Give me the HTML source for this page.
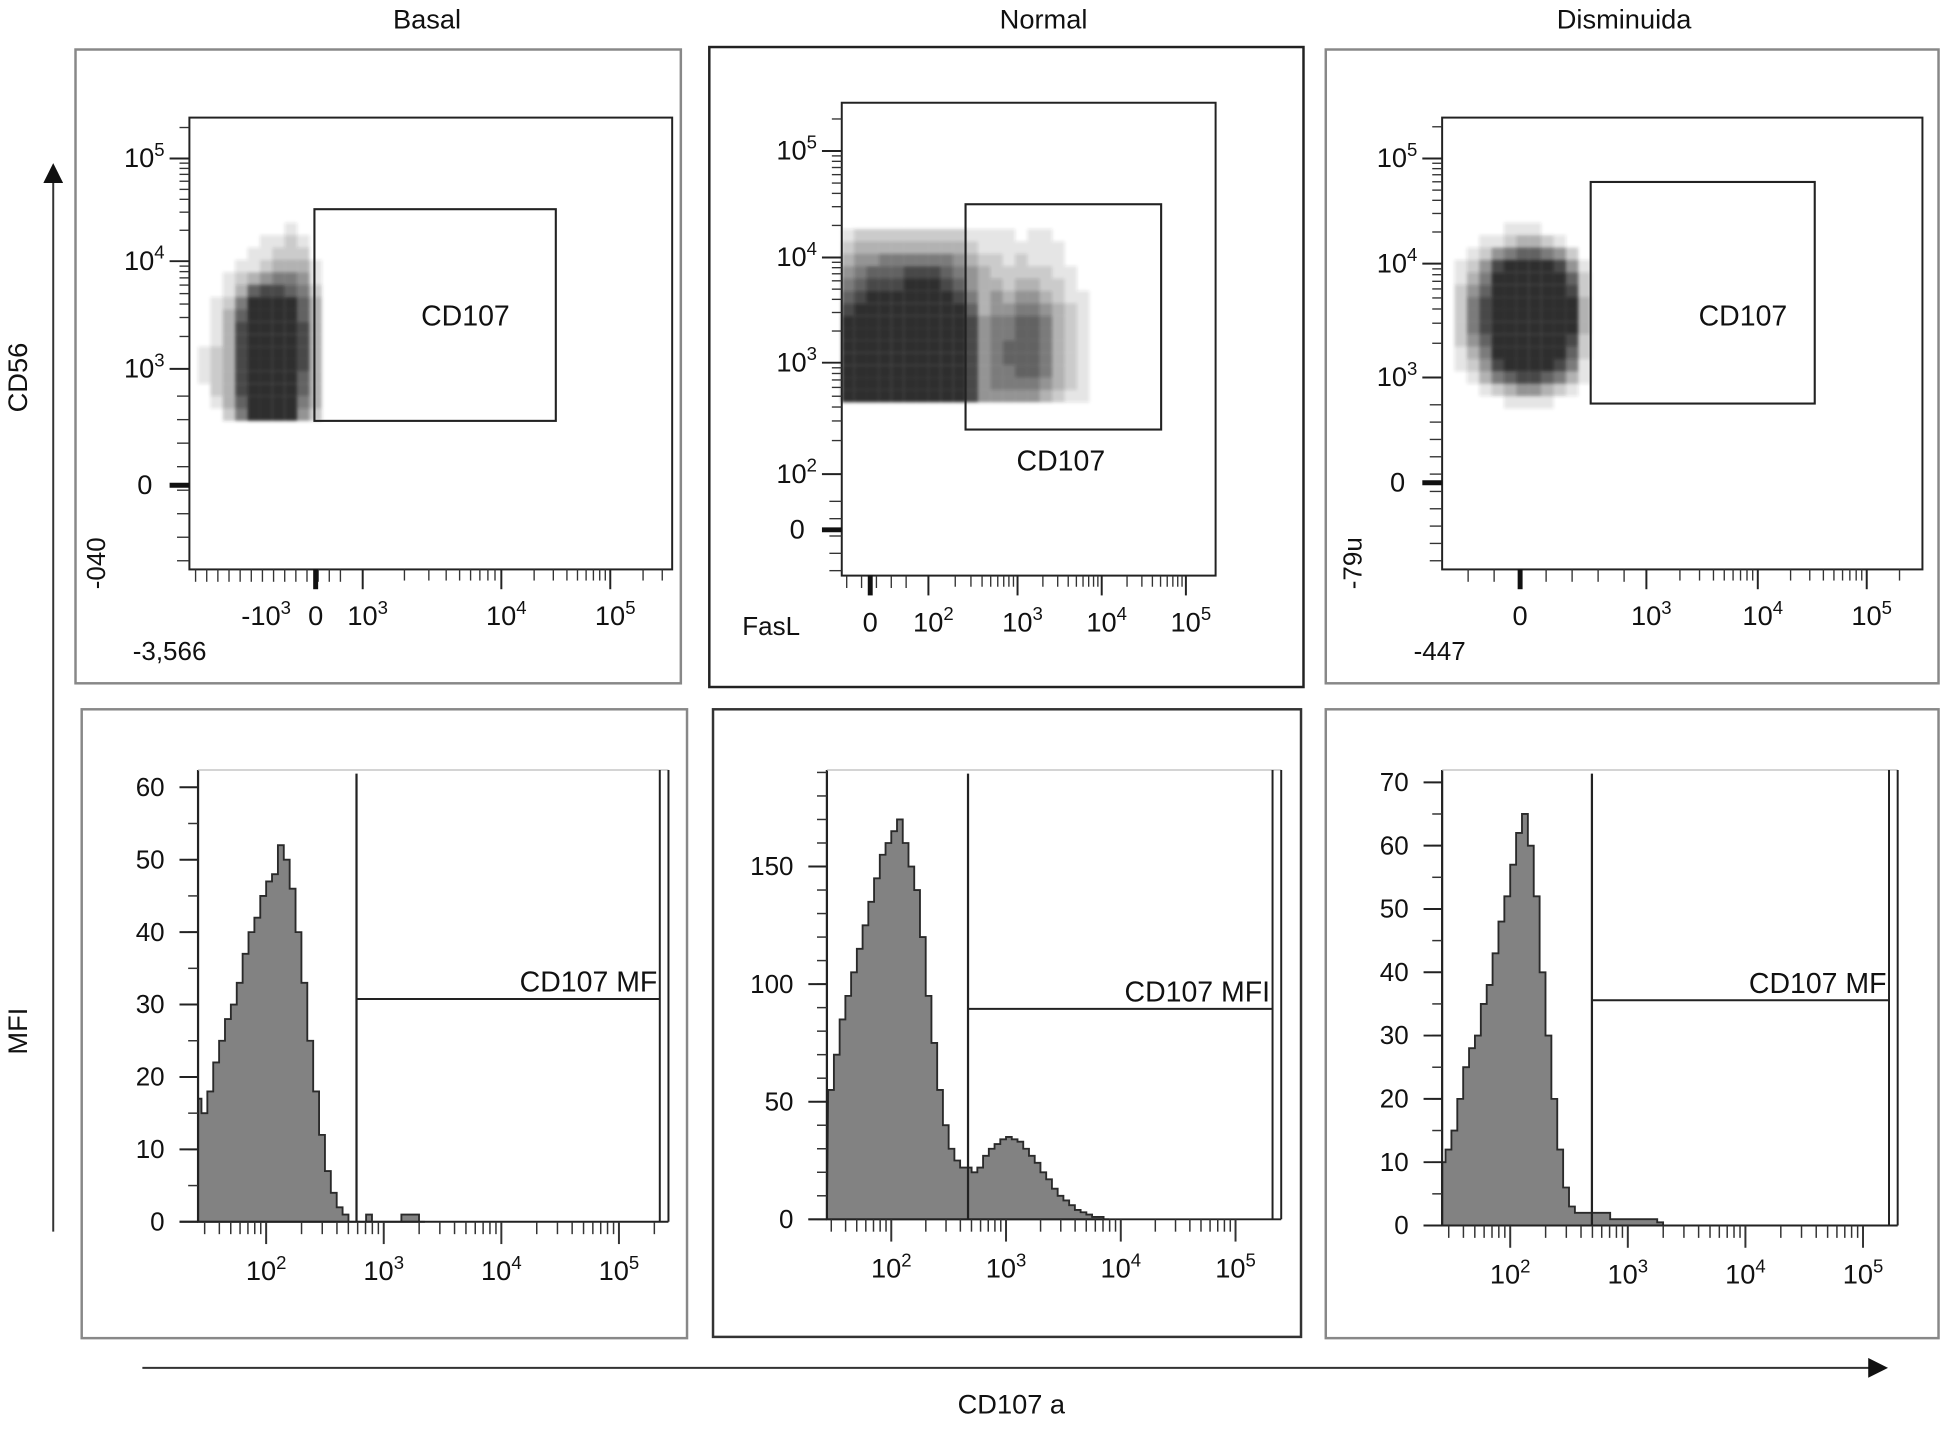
<!DOCTYPE html>
<html><head><meta charset="utf-8"><style>
html,body{margin:0;padding:0;background:#fff;}
svg{display:block;font-family:"Liberation Sans",sans-serif;}
</style></head><body>
<svg id="fig" width="1941" height="1429" viewBox="0 0 1568 1154.4" preserveAspectRatio="none" xmlns="http://www.w3.org/2000/svg">
<defs><filter id="blur" x="-10%" y="-10%" width="120%" height="120%"><feGaussianBlur stdDeviation="1.3"/></filter>
<marker id="ah" markerWidth="10" markerHeight="10" refX="8" refY="5" orient="auto"><path d="M0,0 L10,5 L0,10 z" fill="#111"/></marker></defs>
<g id="root"></g>
</svg>
<script>
// ---------- Histogram data (counts per log10 bin, bin width 0.05) ----------
const binStep = 0.05;
const basalStart = 1.40;
const basalCounts = [17,15,18,22,25,28,30,33,37,40,42,45,47,48,52,50,46,40,33,25,18,12,7,4,2,1,0,0,0,1,0,0,0,0,0,1,1,1,0];
const normalStart = 1.45;
const normalCounts = [55,70,85,95,105,115,125,135,145,155,160,165,170,160,150,140,120,95,75,55,40,30,25,22,22,20,22,27,30,32,34,35,34,33,30,27,24,20,17,13,10,8,6,4,3,2,1,1,0];
const dismStart = 1.40;
const dismCounts = [10,12,15,20,25,28,30,35,38,43,48,52,57,62,65,60,52,40,30,20,12,6,3,2,2,2,2,2,2,1,1,1,1,1,1,1,1,0.5,0];
// ---------- Scatter density grids (0-9) ----------
const basalDensity = ["0000000100","0000011210","0000112220","0001123331","0012345541","0013677652","0125899863","0136999963","0137999973","0137999973","1237999973","1237999973","1237999963","0237999963","0136999953","0025888842"];
const normalDensity = ["12222222221111011000","23333333332111111100","34455555543221211100","45666777654322222110","56777888764332332210","67888999875343443211","78999999986344554321","89999999987455665321","89999999987455665321","89999999987456665321","99999999997456665321","99999999997455665321","99999999997455554321","99999999997444443211"];
const dismDensity = ["000011100000","001123321000","012456654200","124789987410","135899998620","246999999720","257999999830","257999999830","257999999830","246999999720","135899998620","124789987510","013567765310","001234432100","000011110000"];
// ---------- Tick labels ----------
const histYLabelsBasal = [0,10,20,30,40,50,60];
const histYLabelsNormal = [0,50,100,150];
const histYLabelsDism = [0,10,20,30,40,50,60,70];
const histXExps = [2,3,4,5];

const NS="http://www.w3.org/2000/svg";
const root=document.getElementById('root');
function el(tag,attrs,parent){const e=document.createElementNS(NS,tag);for(const k in attrs)e.setAttribute(k,attrs[k]);(parent||root).appendChild(e);return e;}
function line(x1,y1,x2,y2,w,c,p){return el('line',{x1,y1,x2,y2,stroke:c||'#222','stroke-width':w||1.3},p);}
function txt(x,y,s,size,anchor,p){const t=el('text',{x,y,'font-size':size||21,'text-anchor':anchor||'middle',fill:'#111'},p);t.textContent=s;return t;}
function pow(x,y,e,anchor,p,pre){const t=el('text',{x,y,'font-size':22,'text-anchor':anchor||'middle',fill:'#111'},p);
  const a=el('tspan',{},t);a.textContent=(pre||'')+'10';const b=el('tspan',{dy:-9,'font-size':15},t);b.textContent=String(e);return t;}

// ---------- global labels ----------
const titles=[['Basal',345],['Normal',843],['Disminuida',1312]];
titles.forEach(([s,x])=>{const t=txt(x,23,s,22);

});
const yArrow=line(43,995,43,135,1.6,'#333');yArrow.setAttribute('marker-end','url(#ah)');


const xArrow=line(115,1105,1522,1105,1.6,'#333');xArrow.setAttribute('marker-end','url(#ah)');


const cd56=txt(0,0,'CD56',22);cd56.setAttribute('transform','translate(22,305) rotate(-90)');


const mfi=txt(0,0,'MFI',22);mfi.setAttribute('transform','translate(22,833) rotate(-90)');


const xt=txt(817,1142,'CD107 a',22);



// ---------- scatter panels ----------
function scatterPanel(cfg){
  const g=el('g',{});
  
  
  const o=cfg.outer;
  el('rect',{x:o[0],y:o[1],width:o[2]-o[0],height:o[3]-o[1],fill:'none',stroke:cfg.outerColor,'stroke-width':cfg.outerW},g);
  const b=cfg.inner;
  const dg=el('g',{filter:'url(#blur)'},g);
  cfg.density.forEach((row,r)=>{for(let c=0;c<row.length;c++){const v=+row[c];if(!v)continue;
    const cell=el('rect',{x:cfg.gx+c*cfg.cw,y:cfg.gy+r*cfg.ch,width:cfg.cw,height:cfg.ch,fill:'#2e2e2e','fill-opacity':Math.min(1,v/8)},dg);
    
    }});
  el('rect',{x:b[0],y:b[1],width:b[2]-b[0],height:b[3]-b[1],fill:'none',stroke:'#222','stroke-width':1.6},g);
  const yd=cfg.yDec;
  for(let i=0;i<yd.length;i++){line(b[0]-16,yd[i][1],b[0],yd[i][1],1.6,'#222',g);
    if(i<yd.length-1||cfg.yExtra){const y0=yd[i][1],y1=i<yd.length-1?yd[i+1][1]:yd[i][1]-(yd[i-1][1]-yd[i][1]);
      for(let k=2;k<10;k++){const yy=y0+(y1-y0)*Math.log10(k);if(yy<b[1]+4)continue;line(b[0]-8,yy,b[0],yy,1.1,'#333',g);}}
    pow(b[0]-20,yd[i][1]+7,yd[i][0],'end',g);}
  const lowY=yd[0][1];
  for(let yy=lowY+22;yy<b[3];yy+=cfg.linStep){line(b[0]-10,yy,b[0],yy,1.1,'#333',g);}
  if(cfg.zeroY){line(b[0]-16,cfg.zeroY,b[0],cfg.zeroY,4,'#111',g);txt(b[0]-36,cfg.zeroY+7,'0',22,'middle',g);}
  const xd=cfg.xDec;
  for(let i=0;i<xd.length;i++){line(xd[i][1],b[3],xd[i][1],b[3]+16,1.6,'#222',g);
    const x0=xd[i][1],x1=i<xd.length-1?xd[i+1][1]:xd[i][1]+(xd[i][1]-xd[i-1][1]);
    for(let k=2;k<10;k++){const xx=x0+(x1-x0)*Math.log10(k);if(xx>b[2]-4)continue;line(xx,b[3],xx,b[3]+9,1.1,'#333',g);}
    pow(xd[i][1]+4,b[3]+45,xd[i][0],'middle',g);}
  for(let xx=xd[0][1]-18;xx>b[0];xx-=cfg.linStepX){line(xx,b[3],xx,b[3]+10,1.1,'#333',g);}
  if(cfg.zeroX){line(cfg.zeroX,b[3],cfg.zeroX,b[3]+16,4,'#111',g);txt(cfg.zeroX,b[3]+45,'0',22,'middle',g);}
  if(cfg.negDec){pow(cfg.negDec[0],b[3]+45,cfg.negDec[1],'middle',g,'-');}
  (cfg.texts||[]).forEach(t=>{const e=txt(t[0],t[1],t[2],21,t[3]||'middle',g);if(t[4])e.setAttribute('transform','rotate(-90 '+t[0]+' '+t[1]+')');});
  const ga=cfg.gate;
  const gr=el('rect',{x:ga[0],y:ga[1],width:ga[2]-ga[0],height:ga[3]-ga[1],fill:'none',stroke:'#222','stroke-width':1.7},g);
  
  
  const gl=txt(cfg.gateLabel[0],cfg.gateLabel[1],'CD107',23,'middle',g);
  
  
}
scatterPanel({name:'scatter-basal',outer:[61,40,550,552],outerColor:'#888',outerW:2,inner:[153,95,543,460],
  density:basalDensity,gx:160,gy:180,cw:10,ch:10,
  yDec:[[3,298],[4,211],[5,128]],yExtra:true,zeroY:392,linStep:19,
  xDec:[[3,293],[4,405],[5,493]],zeroX:255,linStepX:9,negDec:[215,3],
  texts:[[137,533,'-3,566'],[85,455,'-040','middle',true]],
  gate:[254,169,449,340],gateLabel:[376,263]});
scatterPanel({name:'scatter-normal',outer:[573,38,1053,555],outerColor:'#222',outerW:2,inner:[680,83,982,465],
  density:normalDensity,gx:680,gy:185,cw:10,ch:10,
  yDec:[[2,383],[3,293],[4,208],[5,122]],yExtra:true,zeroY:428,linStep:14,
  xDec:[[2,750],[3,822],[4,890],[5,958]],zeroX:703,linStepX:12,
  texts:[[623,513,'FasL']],
  gate:[780,165,938,347],gateLabel:[857,380]});
scatterPanel({name:'scatter-disminuida',outer:[1071,40,1566,552],outerColor:'#888',outerW:2,inner:[1165,95,1553,460],
  density:dismDensity,gx:1175,gy:180,cw:10,ch:10,
  yDec:[[3,305],[4,213],[5,128]],yExtra:true,zeroY:390,linStep:14,
  xDec:[[3,1330],[4,1420],[5,1508]],zeroX:1228,linStepX:21,
  texts:[[1163,533,'-447'],[1100,455,'-79u','middle',true]],
  gate:[1285,147,1466,326],gateLabel:[1408,263]});

// ---------- histogram panels ----------
function histPanel(cfg){
  const g=el('g',{});
  
  
  const o=cfg.outer;
  el('rect',{x:o[0],y:o[1],width:o[2]-o[0],height:o[3]-o[1],fill:'none',stroke:cfg.outerColor,'stroke-width':2},g);
  const ax=cfg.axisX,y0=cfg.y0,top=cfg.top,right=cfg.right;
  const yS=v=>y0-(v-cfg.yMin)*(y0-cfg.yTopPx)/(cfg.yTopVal);
  const xS=l=>cfg.x2+(l-2)*cfg.dec;
  let d='M'+ax+','+y0;
  cfg.counts.forEach((c,i)=>{const l=cfg.start+i*binStep;let xa=Math.max(ax,xS(l)),xb=xS(l+binStep);d+=' L'+xa+','+yS(c)+' L'+xb+','+yS(c);});
  d+=' L'+xS(cfg.start+cfg.counts.length*binStep)+','+y0+' Z';
  const h=el('path',{d,fill:'#828282',stroke:'#2a2a2a','stroke-width':1.5,'stroke-linejoin':'miter'},g);
  
  
  line(ax,top,ax,y0,1.8,'#222',g);
  line(ax,top,right,top,1,'#bbb',g);
  line(right-7,top,right-7,y0,1.6,'#222',g);line(right,top,right,y0,1.6,'#222',g);
  line(ax-15,y0,right,y0,1.6,'#222',g);
  for(let v=0;v<=cfg.yMaxTick;v+=cfg.minor){const yy=yS(v);if(yy<top)break;line(ax-8,yy,ax,yy,1.2,'#333',g);}
  cfg.yLabels.forEach(v=>{const yy=yS(v);line(ax-15,yy,ax,yy,1.6,'#222',g);
    const t=txt(ax-27,yy+7,String(v),21,'end',g);
    
    });
  for(let e=1;e<=5;e++){for(let k=1;k<10;k++){const xx=xS(e+Math.log10(k));if(xx<ax+2||xx>right-9)continue;line(xx,y0,xx,y0+(k===1?18:10),k===1?1.6:1.2,'#333',g);}}
  histXExps.forEach(e=>{const t=pow(xS(e),y0+47,e,'middle',g);
    
    });
  const gx=cfg.gateX;
  const gv=line(gx,top+3,gx,y0,1.8,'#222',g);
  
  
  const gh=line(gx,cfg.gateY,right-7,cfg.gateY,1.6,'#222',g);
  
  
  const gl=txt(right-9,cfg.gateY-6,cfg.gateText,23,'end',g);
  
  
}
histPanel({name:'histogram-basal',outer:[66,573,555,1081],outerColor:'#888',axisX:160,y0:987,top:622,right:540,
  yMin:0,yTopPx:636,yTopVal:60,yMaxTick:62,minor:5,yLabels:histYLabelsBasal,
  x2:215,dec:95,start:basalStart,counts:basalCounts,gateX:288,gateY:807,gateText:'CD107 MF'});
histPanel({name:'histogram-normal',outer:[576,573,1051,1080],outerColor:'#333',axisX:668,y0:985,top:622,right:1035,
  yMin:0,yTopPx:700,yTopVal:150,yMaxTick:190,minor:10,yLabels:histYLabelsNormal,
  x2:720,dec:92.7,start:normalStart,counts:normalCounts,gateX:782,gateY:815,gateText:'CD107 MFI'});
histPanel({name:'histogram-disminuida',outer:[1071,573,1566,1081],outerColor:'#888',axisX:1165,y0:990,top:622,right:1533,
  yMin:0,yTopPx:632,yTopVal:70,yMaxTick:72,minor:5,yLabels:histYLabelsDism,
  x2:1220,dec:95,start:dismStart,counts:dismCounts,gateX:1286,gateY:808,gateText:'CD107 MF'});
</script>
</body></html>
